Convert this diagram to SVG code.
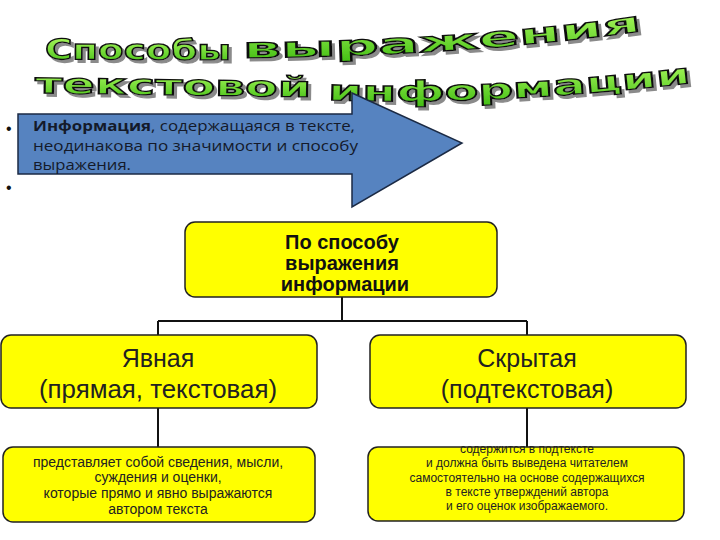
<svg xmlns="http://www.w3.org/2000/svg" xmlns:xlink="http://www.w3.org/1999/xlink" width="720" height="540" viewBox="0 0 720 540">
<style>
.title{font-family:"DejaVu Sans",sans-serif;font-weight:bold;font-size:28px;fill:url(#g);stroke:#111;stroke-width:1.3}
.box{fill:#ffff00;stroke:#222;stroke-width:1.5}
.bold{font-family:"Liberation Sans",Arial,sans-serif;font-weight:bold;font-size:20px;fill:#111;text-anchor:middle}
.mid{font-family:"Liberation Sans",Arial,sans-serif;font-size:25px;fill:#222;text-anchor:middle}
.small{font-family:"Liberation Sans",Arial,sans-serif;font-size:14px;fill:#222;text-anchor:middle}
.small2{font-family:"Liberation Sans",Arial,sans-serif;font-size:12px;fill:#222;text-anchor:middle}
.arrowtxt{font-family:"Open Sans","Noto Sans",sans-serif;font-size:15px;fill:#141a2a}
.conn{stroke:#111;stroke-width:2;fill:none}
</style>
<defs>
<linearGradient id="g" x1="0" y1="0" x2="0" y2="1">
<stop offset="0" stop-color="#b6ff66"/>
<stop offset="1" stop-color="#3dbb10"/>
</linearGradient>
<filter id="sh" x="-5%" y="-20%" width="110%" height="160%">
<feDropShadow dx="3" dy="3" stdDeviation="0.6" flood-color="#8a8a8a" flood-opacity="1"/>
</filter>
<path id="p1a" d="M45,59 L232,60"/>
<path id="p1b" d="M243,58 C400,56 520,48 642,31"/>
<path id="p2a" d="M35,93 L312,97"/>
<path id="p2b" d="M328,100 C450,104 560,98 690,83"/>
</defs>
<rect width="720" height="540" fill="#fff"/>
<g id="title" filter="url(#sh)">
<text class="title"><textPath xlink:href="#p1a" textLength="186" lengthAdjust="spacingAndGlyphs">Способы</textPath></text>
<text class="title"><textPath xlink:href="#p1b" textLength="400" lengthAdjust="spacingAndGlyphs">выражения</textPath></text>
<text class="title"><textPath xlink:href="#p2a" textLength="276" lengthAdjust="spacingAndGlyphs">текстовой</textPath></text>
<text class="title"><textPath xlink:href="#p2b" textLength="364" lengthAdjust="spacingAndGlyphs">информации</textPath></text>
</g>
<g id="arrow">
<polygon points="18,114 352,114 352,93 462,143 352,207 352,174 18,174" fill="#5683c0" stroke="#1b2a44" stroke-width="1.5"/>
<text class="arrowtxt" x="33" y="131" textLength="322" lengthAdjust="spacingAndGlyphs"><tspan font-weight="bold">Информация</tspan>, содержащаяся в тексте,</text>
<text class="arrowtxt" x="33" y="151" textLength="325" lengthAdjust="spacingAndGlyphs">неодинакова по значимости и способу</text>
<text class="arrowtxt" x="33" y="170" textLength="98" lengthAdjust="spacingAndGlyphs">выражения.</text>
</g>
<g id="bullets" font-family="Liberation Sans,Arial,sans-serif" font-size="16" fill="#111">
<text x="6" y="134">•</text>
<text x="6" y="193">•</text>
</g>
<g id="connectors">
<path class="conn" d="M342,297 V321 M158,321 H527 M158,321 V335 M527,321 V335"/>
<path class="conn" d="M158,408 V447 M527,408 V447"/>
</g>
<g id="root">
<rect class="box" x="185" y="222" width="312" height="75" rx="10"/>
<text class="bold" x="342" y="249">По способу</text>
<text class="bold" x="342" y="270">выражения</text>
<text class="bold" x="345" y="291">информации</text>
</g>
<g id="explicit">
<rect class="box" x="1" y="335" width="316" height="73" rx="10"/>
<text class="mid" x="158" y="367">Явная</text>
<text class="mid" x="158" y="398" textLength="238" lengthAdjust="spacingAndGlyphs">(прямая, текстовая)</text>
</g>
<g id="hidden">
<rect class="box" x="370" y="335" width="316" height="73" rx="10"/>
<text class="mid" x="527" y="367">Скрытая</text>
<text class="mid" x="527" y="398">(подтекстовая)</text>
</g>
<g id="explicit-desc">
<rect class="box" x="3" y="447" width="312" height="75" rx="10"/>
<text class="small" x="158" y="467">представляет собой сведения, мысли,</text>
<text class="small" x="158" y="482">суждения и оценки,</text>
<text class="small" x="158" y="498">которые прямо и явно выражаются</text>
<text class="small" x="158" y="514">автором текста</text>
</g>
<g id="hidden-desc">
<rect class="box" x="368" y="447" width="316" height="74" rx="10"/>
<text class="small2" x="527" y="453">содержится в подтексте</text>
<text class="small2" x="527" y="467">и должна быть выведена читателем</text>
<text class="small2" x="527" y="482">самостоятельно на основе содержащихся</text>
<text class="small2" x="527" y="496">в тексте утверждений автора</text>
<text class="small2" x="527" y="510">и его оценок изображаемого.</text>
</g>
</svg>
